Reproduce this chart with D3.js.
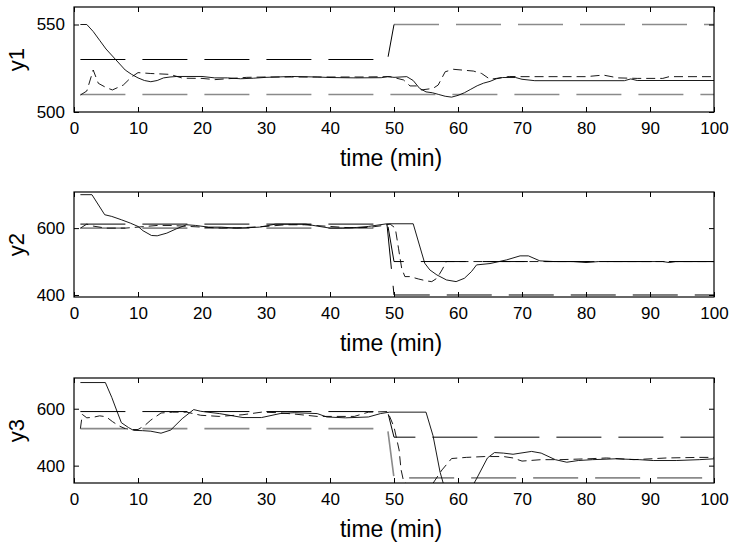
<!DOCTYPE html>
<html><head><meta charset="utf-8">
<script src="https://cdn.jsdelivr.net/npm/d3@7"></script>
<style>body{margin:0;background:#fff}svg{display:block}</style>
</head><body>
<svg id="c" width="732" height="543"></svg>
<script>
// ---------- data ----------
const xTicks = [0,10,20,30,40,50,60,70,80,90,100];
const xLabel = "time (min)";
const yLabels = ["y1","y2","y3"];
const y1Ticks = [500,550];
const y2Ticks = [400,600];
const y3Ticks = [400,600];

// y1
const y1Out = [[1,550],[2,550],[3,546],[4,541],[5,536],[6,532],[7,528],[8,524],[9,521.5],[10,519.5],[11,518],[12,517.3],[13,518],[14,519.5],[15,520],[16,520.3],[20,520.3],[22,519.5],[24,519.5],[26,519],[28,519.3],[30,519.8],[34,520.3],[38,520],[40,519.7],[44,519.5],[48,519.6],[49,520.2],[50,519.8],[52,520.2],[53,518],[54,513.5],[55,511.5],[56,511],[57,510],[58,509],[59,508.5],[60,509.5],[61,511],[62,513],[63,515],[64,516.5],[65,517.5],[66,519],[67,519.7],[69,519.7],[70,518.7],[72,517.9],[80,517.9],[86,517.9],[87,518.9],[88,518],[100,518]];
const y1Pred = [[1,509.7],[2,512],[3,524],[3.8,516.4],[5,514],[6,512.6],[7.7,515.4],[9,520],[10,522.5],[12,522],[15,521.5],[17,519.3],[20,519.2],[22,518.5],[24,519],[27,519.8],[30,520],[35,520],[40,520],[45,520],[49.4,520.2],[51.5,518.3],[52.5,514.9],[53.5,514.9],[54.3,512.6],[56.1,513.5],[56.9,515.4],[58,523],[59.3,524.4],[62.4,523.4],[63.7,522],[65,518.7],[66,519.2],[68,520.3],[70,520.2],[75,520.2],[80,520.2],[82.7,521.1],[85,519.5],[88,519.2],[92,519.2],[93,520.2],[100,520.2]];
const y1UpperA = [[1,530],[49,530],[50,550]];
const y1UpperB = [[50,550],[100,550]];
const y1Lower = [[1,510],[100,510]];

// y2
const y2Out = [[1,700],[2.8,700],[4.8,640],[5.9,635],[7.4,625],[8.8,615],[10,605],[10.8,592],[12.1,578],[13,577],[14.5,585],[16,598],[17.6,610],[19,608],[21,603],[23,603],[25.4,600],[27,601],[29,603],[31.5,612],[34,612],[36.2,612],[38,606],[40,600],[42,600],[44.2,602],[46,605],[48.9,613],[53,613],[54.8,495],[55.6,475],[56.7,460],[58.2,445],[59.7,440],[61,450],[62.1,470],[62.9,490],[65,494],[67.6,505],[69.7,517],[71,517],[72.8,502],[75,500],[78,500],[80,497],[82,500],[92,500],[93,497],[94,500],[100,500]];
const y2Pred = [[1,600],[2,612],[3,606],[5,600],[8,600],[10,603],[13,608],[15,608],[18,605],[20,603],[23,600],[26,601],[30,605],[33,610],[36,610],[40,605],[43,601],[46,602],[48,607],[49.4,612],[50.2,600],[50.7,540],[51.2,480],[51.7,455],[52.5,455],[53.8,448],[55.1,442],[55.9,440],[56.7,450],[57.5,475],[58.2,500],[60,500],[100,500]];
const y2Upper = [[1,612],[49,612],[50,500],[100,500]];
const y2LowerA = [[1,600],[49,600]];
const y2LowerB = [[48.9,612],[50,400],[100,400]];

// y3
const y3Out = [[1,692],[4.9,692],[5.9,640],[6.7,592],[7.4,551],[8.5,534],[9.3,524],[10.7,523],[12,521],[13.6,514],[15.1,525],[16.9,565],[18.7,597],[19.8,591],[22.7,583],[26.4,569],[29.3,569],[32.2,583],[34.4,586],[38,583],[39.5,571],[42.4,568],[46,571],[47.9,583],[49.3,588],[55,588],[56.1,505],[57.2,377],[57.8,330],[62.3,330],[62.9,354],[64.6,427],[65.7,446],[67.1,444],[68.6,440],[71.5,450],[73,444],[75.2,421],[77,412],[78.8,418],[81,421],[84.6,424],[88.3,421],[90.5,418],[94.1,418],[97.7,421],[100,424]];
const y3Pred = [[1,530],[1.3,580],[2,568],[3,570],[4,575],[5,572],[6,555],[7,540],[8,530],[9,527],[10,527],[11,540],[12,560],[13.6,585],[15.4,588],[17.6,588],[19.8,577],[22.7,573],[26.4,579],[29.3,588],[32,586],[35,580],[38,573],[43.8,573],[46,588],[49,590],[50,536],[50.8,455],[51.1,386],[51.5,345],[52,335],[56,335],[57.5,385],[59,425],[61.3,429],[64.2,432],[67.1,432],[68.6,427],[70,416],[73,421],[75.9,421],[80.3,424],[83.2,427],[87.5,421],[92.6,427],[97.7,429],[100,429]];
const y3Upper = [[1,590],[49,590],[50,500],[100,500]];
const y3Lower = [[1,530],[49,530],[50,357],[100,357]];

// ---------- layout ----------
const L = 74, R = 714, H = 105;
const tops = [7, 192, 378];
const domains = [[500,560],[394,708],[339,708]];
const yTickSets = [y1Ticks, y2Ticks, y3Ticks];

const GRAY = "#8a8a8a";
const longDash = "45,17", shortDash = "9,5";
const seriesSets = [
  [ {d:y1Lower, c:GRAY, w:1.6, dash:longDash},
    {d:y1UpperB, c:GRAY, w:1.6, dash:longDash},
    {d:y1UpperA, c:"#000", w:1, dash:longDash},
    {d:y1Pred, c:"#000", w:0.9, dash:shortDash},
    {d:y1Out, c:"#000", w:0.9, dash:null} ],
  [ {d:y2LowerA, c:GRAY, w:1.6, dash:longDash},
    {d:y2LowerB, c:"#000", w:1, dash:longDash},
    {d:y2Upper, c:"#000", w:1, dash:longDash},
    {d:y2Pred, c:"#000", w:0.9, dash:shortDash},
    {d:y2Out, c:"#000", w:0.9, dash:null} ],
  [ {d:y3Lower, c:GRAY, w:1.6, dash:longDash},
    {d:y3Upper, c:"#000", w:1, dash:longDash},
    {d:y3Pred, c:"#000", w:0.9, dash:shortDash},
    {d:y3Out, c:"#000", w:0.9, dash:null} ]
];

const svg = d3.select("#c");
const FONT = "Liberation Sans, Arial, sans-serif";
const x = d3.scaleLinear().domain([0,100]).range([L,R]);

tops.forEach((top,i)=>{
  const y = d3.scaleLinear().domain(domains[i]).range([top+H, top]);
  const g = svg.append("g");
  const cid = "clip"+i;
  svg.append("clipPath").attr("id",cid).append("rect")
     .attr("x",L).attr("y",top).attr("width",R-L).attr("height",H);
  const line = d3.line().x(d=>x(d[0])).y(d=>y(d[1]));
  const lg = g.append("g").attr("clip-path",`url(#${cid})`);
  seriesSets[i].forEach(s=>{
    lg.append("path").attr("d",line(s.d)).attr("fill","none")
      .attr("stroke",s.c).attr("stroke-width",s.w)
      .attr("stroke-dasharray",s.dash);
  });
  // axes (MATLAB style: inward ticks, mirrored)
  const ax = g.append("g").attr("transform",`translate(0,${top+H})`)
     .call(d3.axisBottom(x).tickValues(xTicks).tickSizeInner(-5).tickSizeOuter(0).tickPadding(10));
  const axT = g.append("g").attr("transform",`translate(0,${top})`)
     .call(d3.axisTop(x).tickValues(xTicks).tickSizeInner(-5).tickSizeOuter(0).tickFormat(""));
  const ay = g.append("g").attr("transform",`translate(${L},0)`)
     .call(d3.axisLeft(y).tickValues(yTickSets[i]).tickSizeInner(-5).tickSizeOuter(0).tickPadding(9));
  const ayR = g.append("g").attr("transform",`translate(${R},0)`)
     .call(d3.axisRight(y).tickValues(yTickSets[i]).tickSizeInner(-5).tickSizeOuter(0).tickFormat(""));
  [ax,axT,ay,ayR].forEach(a=>{
    a.select(".domain").remove();
    a.selectAll("line").attr("stroke","#000").attr("stroke-width",1);
    a.selectAll("text").attr("font-family",FONT).attr("font-size",17).attr("fill","#000");
  });
  g.append("rect").attr("x",L).attr("y",top).attr("width",R-L).attr("height",H)
   .attr("fill","none").attr("stroke","#000").attr("stroke-width",1.2);
  g.append("text").attr("x",(L+R)/2 - 3).attr("y",top+H+54).attr("text-anchor","middle")
   .attr("font-family",FONT).attr("font-size",23).text(xLabel);
  g.append("text").attr("transform",`translate(24,${top+H/2}) rotate(-90)`)
   .attr("text-anchor","middle").attr("font-family",FONT).attr("font-size",22).text(yLabels[i]);
});
</script>
</body></html>
